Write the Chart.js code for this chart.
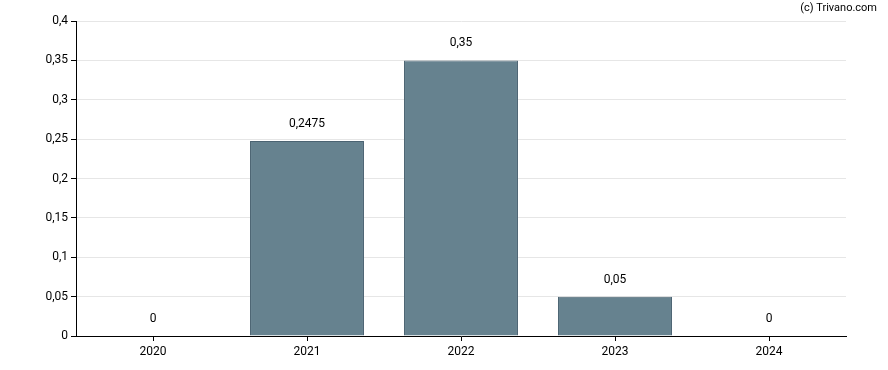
<!DOCTYPE html>
<html>
<head>
<meta charset="utf-8">
<script src="https://cdn.jsdelivr.net/npm/chart.js@4"></script>
<style>
  html, body { margin: 0; padding: 0; background: #fff; }
  #wrap { width: 888px; height: 370px; position: relative; }
</style>
</head>
<body>
<div id="wrap"><canvas id="myChart"></canvas></div>
<script>
var years = ['2020', '2021', '2022', '2023', '2024'];
var dividends = [0, 0.2475, 0.35, 0.05, 0];
var yTicks = [0, 0.05, 0.1, 0.15, 0.2, 0.25, 0.3, 0.35, 0.4];

function comma(v) {
    return String(v).replace('.', ',');
}

// labels over the bars + copyright line
var valueLabels = {
    id: 'valueLabels',
    afterDatasetsDraw: function (chart) {
        var ctx = chart.ctx;
        var meta = chart.getDatasetMeta(0);
        ctx.save();
        ctx.font = '12px Roboto, Arial, sans-serif';
        ctx.fillStyle = '#000';
        ctx.textAlign = 'center';
        ctx.textBaseline = 'middle';
        meta.data.forEach(function (bar, i) {
            ctx.fillText(comma(dividends[i]), bar.x, bar.y - 17);
        });
        ctx.textAlign = 'right';
        ctx.font = '11px Roboto, Arial, sans-serif';
        ctx.fillText('(c) Trivano.com', 877, 8);
        ctx.restore();
    }
};

var ctx = document.getElementById('myChart').getContext('2d');

var chart = new Chart(ctx, {
    type: 'bar',
    data: {
        labels: years,
        datasets: [{
            data: dividends,
            backgroundColor: '#66828f',
            borderColor: '#4b6372',
            borderWidth: 1,
            categoryPercentage: 0.74,
            barPercentage: 1
        }]
    },
    options: {
        responsive: true,
        maintainAspectRatio: false,
        animation: false,
        layout: { padding: { top: 21, right: 42, left: 0, bottom: 0 } },
        plugins: {
            legend: { display: false },
            tooltip: { enabled: false }
        },
        scales: {
            x: {
                grid: { drawOnChartArea: false, offset: false, tickColor: '#000', tickLength: 5 },
                border: { color: '#000', width: 1 },
                ticks: { color: '#000', font: { family: 'Roboto, Arial, sans-serif', size: 12 }, padding: 4 },
                afterFit: function (s) { s.height = 34; }
            },
            y: {
                min: 0,
                max: 0.4,
                afterBuildTicks: function (s) {
                    s.ticks = yTicks.map(function (v) { return { value: v }; });
                },
                grid: { color: '#e6e6e6', tickColor: '#000', tickLength: 5 },
                border: { color: '#000', width: 1 },
                ticks: {
                    color: '#000',
                    font: { family: 'Roboto, Arial, sans-serif', size: 12 },
                    padding: 3,
                    callback: function (v) { return comma(v); }
                },
                afterFit: function (s) { s.width = 76; }
            }
        }
    },
    plugins: [valueLabels]
});
</script>
</body>
</html>
